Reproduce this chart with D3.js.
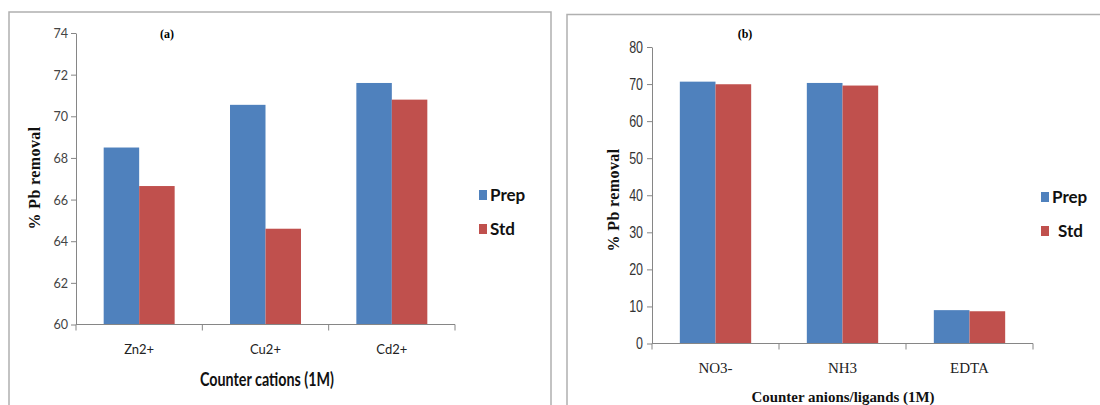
<!DOCTYPE html>
<html>
<head>
<meta charset="utf-8">
<script src="https://cdn.jsdelivr.net/npm/d3@7/dist/d3.min.js"></script>
<style>
  body { margin: 0; background: #fff; }
  svg { display: block; }
</style>
</head>
<body>
<script>
// data
var series = ["Prep", "Std"];
var colors = ["#4F81BD", "#C0504D"];

var cations = ["Zn2+", "Cu2+", "Cd2+"];
var cationPrep = [68.5, 70.55, 71.6];
var cationStd = [66.65, 64.6, 70.8];
var cationTicks = [60, 62, 64, 66, 68, 70, 72, 74];

var anions = ["NO3-", "NH3", "EDTA"];
var anionPrep = [70.65, 70.3, 9.0];
var anionStd = [69.95, 69.6, 8.7];
var anionTicks = [0, 10, 20, 30, 40, 50, 60, 70, 80];

var svg = d3.select("body").append("svg")
  .attr("width", 1100)
  .attr("height", 405);

var drawPanel = function(p) {
  // frame
  svg.append("path")
    .attr("d", p.frame)
    .attr("fill", "none")
    .attr("stroke", "#b0b0b0")
    .attr("stroke-width", 1.5);

  var x0 = d3.scaleBand()
    .domain(p.cats)
    .range([p.left, p.right])
    .padding(0);
  var x1 = d3.scaleBand()
    .domain(series)
    .range([0, x0.bandwidth()])
    .paddingInner(0)
    .paddingOuter(0.78);
  var y = d3.scaleLinear()
    .domain(p.domain)
    .range([p.bottom, p.top]);

  var rows = p.cats.map(function(c, i) {
    return {cat: c, vals: [p.prep[i], p.std[i]]};
  });

  // bars
  var g = svg.selectAll(null)
    .data(rows)
    .enter().append("g")
    .attr("transform", function(d) { return "translate(" + x0(d.cat) + ",0)"; });
  g.selectAll("rect")
    .data(function(d) { return d.vals.map(function(v, j) { return {s: series[j], v: v, j: j}; }); })
    .enter().append("rect")
    .attr("x", function(d) { return x1(d.s); })
    .attr("width", x1.bandwidth())
    .attr("y", function(d) { return y(d.v); })
    .attr("height", function(d) { return p.bottom - y(d.v); })
    .attr("fill", function(d) { return colors[d.j]; });

  // y axis
  var yAxis = svg.append("g")
    .attr("transform", "translate(" + p.left + ",0)")
    .call(d3.axisLeft(y).tickValues(p.ticks).tickSize(5).tickSizeOuter(0));
  yAxis.selectAll("path, line").attr("stroke", "#868686");
  yAxis.selectAll("text")
    .attr("x", -p.tickPad / p.tickScale)
    .attr("transform", "scale(" + p.tickScale + ",1)")
    .attr("font-family", p.tickFont)
    .attr("font-size", p.tickSize)
    .attr("fill", p.tickColor);

  // x axis with ticks at band edges
  var xAxis = svg.append("g")
    .attr("transform", "translate(0," + p.bottom + ")");
  xAxis.append("line")
    .attr("x1", p.left).attr("x2", p.right)
    .attr("stroke", "#868686");
  var edges = p.cats.map(function(c) { return x0(c); }).concat([p.right]);
  xAxis.selectAll(".edge")
    .data(edges)
    .enter().append("line")
    .attr("x1", function(d) { return d; })
    .attr("x2", function(d) { return d; })
    .attr("y2", 6)
    .attr("stroke", "#868686");
  xAxis.selectAll(".cat")
    .data(p.cats)
    .enter().append("text")
    .attr("x", function(d) { return x0(d) + x0.bandwidth() / 2; })
    .attr("y", p.catY)
    .attr("text-anchor", "middle")
    .attr("font-family", p.catFont)
    .attr("font-size", p.catSize)
    .attr("fill", "#222")
    .text(function(d) { return d; });

  // titles
  svg.append("text")
    .attr("x", p.xTitleX - p.xTitleLen / 2)
    .attr("y", p.xTitleY)
    .attr("textLength", p.xTitleLen)
    .attr("lengthAdjust", "spacingAndGlyphs")
    .attr("font-family", p.xTitleFont)
    .attr("font-size", p.xTitleSize)
    .attr("font-weight", "bold")
    .attr("fill", "#111")
    .text(p.xTitle);

  svg.append("text")
    .attr("transform", "translate(" + p.yTitleX + "," + p.yTitleY + ") rotate(-90)")
    .attr("text-anchor", "middle")
    .attr("font-family", "Liberation Serif, serif")
    .attr("font-size", 16)
    .attr("font-weight", "bold")
    .attr("letter-spacing", 0.4)
    .attr("fill", "#111")
    .text("% Pb removal");

  svg.append("text")
    .attr("x", p.tagX)
    .attr("y", 38)
    .attr("text-anchor", "middle")
    .attr("font-family", "Liberation Serif, serif")
    .attr("font-size", 12)
    .attr("font-weight", "bold")
    .text(p.tag);

  // legend
  var leg = svg.selectAll(null)
    .data(series)
    .enter().append("g")
    .attr("transform", function(d, i) { return "translate(" + p.legX + "," + (p.legY + i * 34) + ")"; });
  leg.append("rect")
    .attr("x", 0).attr("y", -5)
    .attr("width", 8).attr("height", 10)
    .attr("fill", function(d, i) { return colors[i]; });
  leg.append("text")
    .attr("x", function(d, i) { return i === 1 ? p.stdDx : 11; })
    .attr("y", 6)
    .attr("font-family", "Lato, sans-serif")
    .attr("font-size", 17)
    .attr("font-weight", "bold")
    .attr("fill", "#111")
    .text(function(d) { return d; });
};

drawPanel({
  frame: "M9,405 V12 H551 V405",
  cats: cations, prep: cationPrep, std: cationStd,
  domain: [60, 74], ticks: cationTicks,
  left: 76, right: 455, top: 33, bottom: 324.5,
  tickFont: "Lato, sans-serif", tickSize: 14, tickScale: 0.9, tickPad: 8, tickColor: "#444",
  catFont: "Lato, sans-serif", catSize: 13, catY: 29,
  xTitle: "Counter cations (1M)", xTitleX: 267, xTitleLen: 134, xTitleY: 386,
  xTitleFont: "Lato, sans-serif", xTitleSize: 18,
  yTitleX: 40, yTitleY: 178,
  tag: "(a)", tagX: 167,
  legX: 479, legY: 195, stdDx: 11
});

drawPanel({
  frame: "M567,405 V14.5 H1100",
  cats: anions, prep: anionPrep, std: anionStd,
  domain: [0, 80], ticks: anionTicks,
  left: 652, right: 1033, top: 47, bottom: 343.5,
  tickFont: "Liberation Sans, sans-serif", tickSize: 16, tickScale: 0.78, tickPad: 9, tickColor: "#333",
  catFont: "Liberation Serif, serif", catSize: 15, catY: 29,
  xTitle: "Counter anions/ligands (1M)", xTitleX: 843, xTitleLen: 183, xTitleY: 402,
  xTitleFont: "Liberation Serif, serif", xTitleSize: 15,
  yTitleX: 619, yTitleY: 200,
  tag: "(b)", tagX: 745,
  legX: 1041, legY: 197, stdDx: 17
});
</script>
</body>
</html>
